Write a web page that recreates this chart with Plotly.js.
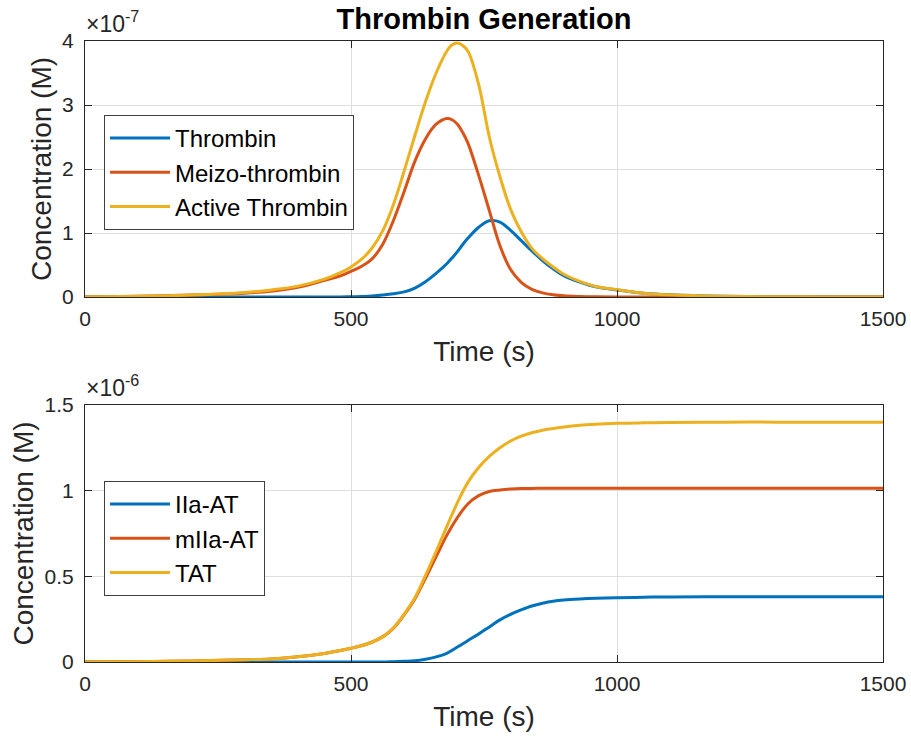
<!DOCTYPE html>
<html>
<head>
<meta charset="utf-8">
<script src="https://cdn.plot.ly/plotly-3.0.1.min.js"></script>
<style>html,body{margin:0;padding:0;background:#fff;}#chart{width:911px;height:736px;}</style>
</head>
<body>
<div id="chart"></div>
<script>
// ---- Top panel data (time in s, values in units of 1e-7 M) ----
const tTop = [0,100,200,300,350,400,450,480,500,520,
              540,560,580,600,620,640,660,680,690,700,
              710,720,740,760,780,800,820,840,860,880,
              900,930,960,1000,1050,1100,1200,1300,1400,1500];
const thrombin = [0,0,0,0,0,0,0,0.001,0.003,0.008,
                  0.015,0.03,0.05,0.08,0.14,0.24,0.37,0.52,0.61,0.71,
                  0.82,0.92,1.09,1.19,1.17,1.04,0.88,0.72,0.57,0.44,
                  0.335,0.235,0.16,0.11,0.06,0.035,0.012,0.004,0.001,0];
const meizo = [0,0.01,0.03,0.06,0.09,0.15,0.26,0.33,0.40,0.48,
               0.60,0.83,1.2,1.65,2.12,2.47,2.70,2.79,2.77,2.70,
               2.57,2.40,1.90,1.35,0.80,0.43,0.23,0.12,0.065,0.035,
               0.018,0.008,0.003,0,0,0,0,0,0,0];
const activeThrombin = [0,0.01,0.03,0.07,0.11,0.17,0.28,0.38,0.47,0.59,
                        0.77,1.04,1.45,1.97,2.52,3.05,3.5,3.84,3.94,3.97,
                        3.93,3.84,3.32,2.50,1.88,1.37,1.02,0.76,0.60,0.47,
                        0.355,0.245,0.165,0.115,0.06,0.035,0.012,0.004,0.001,0];
const topScale = 1e-7;
const topTicks = [0,1,2,3,4];

// ---- Bottom panel data (time in s, values in units of 1e-6 M) ----
const tBot = [0,100,200,300,350,400,450,500,530,560,
              580,600,620,640,660,680,700,720,740,760,
              780,800,820,840,860,880,900,930,960,1000,
              1050,1100,1200,1300,1400,1500];
const iiaAT = [0,0,0,0,0,0,0,0,0,0,
               0.002,0.004,0.007,0.016,0.03,0.051,0.087,0.126,0.164,0.205,
               0.246,0.278,0.304,0.327,0.343,0.355,0.362,0.368,0.372,0.375,
               0.378,0.380,0.381,0.381,0.381,0.381];
const miiaAT = [0,0.002,0.006,0.013,0.018,0.03,0.05,0.08,0.105,0.148,
                0.198,0.276,0.368,0.489,0.615,0.739,0.843,0.924,0.971,0.995,
                1.004,1.01,1.013,1.013,1.014,1.014,1.014,1.014,1.014,1.014,
                1.014,1.014,1.014,1.014,1.014,1.014];
const tat = [0,0.002,0.006,0.013,0.018,0.03,0.05,0.08,0.105,0.148,
             0.2,0.28,0.375,0.505,0.645,0.79,0.93,1.05,1.135,1.20,
             1.25,1.29,1.318,1.338,1.353,1.363,1.372,1.382,1.388,1.393,
             1.396,1.398,1.40,1.40,1.40,1.40];
const botScale = 1e-6;
const botTicks = [0,0.5,1,1.5];
const botTickText = ['0','0.5','1','1.5'];

const xTicks = [0,500,1000,1500];

const C1 = '#0072BD', C2 = '#D95319', C3 = '#EDB120';
const AX = '#262626';
const FONT = 'Liberation Sans, Arial, Helvetica, sans-serif';

function tr(x, y, s, name, color, xa, ya, lg) {
  return {x: x, y: y.map(v => v * s), name: name, type: 'scatter', mode: 'lines',
    line: {color: color, width: 3, shape: 'spline', smoothing: 1},
    xaxis: xa, yaxis: ya, legend: lg, hoverinfo: 'skip'};
}

const data = [
  tr(tTop, thrombin, topScale, 'Thrombin', C1, 'x', 'y', 'legend'),
  tr(tTop, meizo, topScale, 'Meizo-thrombin', C2, 'x', 'y', 'legend'),
  tr(tTop, activeThrombin, topScale, 'Active Thrombin', C3, 'x', 'y', 'legend'),
  tr(tBot, iiaAT, botScale, 'IIa-AT', C1, 'x2', 'y2', 'legend2'),
  tr(tBot, miiaAT, botScale, 'mIIa-AT', C2, 'x2', 'y2', 'legend2'),
  tr(tBot, tat, botScale, 'TAT', C3, 'x2', 'y2', 'legend2')
];

const W = 911, H = 736;
const xd = [85 / W, 883 / W];
const yTop = [1 - 297 / H, 1 - 41 / H];
const yBot = [1 - 662 / H, 1 - 405 / H];

function xaxis(anchor) {
  return {domain: xd, anchor: anchor, range: [0, 1500], tickvals: xTicks,
    ticktext: xTicks.map(String), ticks: 'inside', ticklen: 7, tickcolor: AX, tickwidth: 1,
    showline: true, linecolor: AX, linewidth: 1, mirror: 'ticks',
    showgrid: true, gridcolor: '#dedede', gridwidth: 1, zeroline: false,
    tickfont: {family: FONT, size: 21, color: AX}, ticklabelstandoff: 3,
    title: {text: 'Time (s)', font: {family: FONT, size: 28, color: AX}, standoff: 12}};
}
function yaxis(anchor, dom, range, vals, text) {
  return {domain: dom, anchor: anchor, range: range, tickvals: vals, ticktext: text,
    ticks: 'inside', ticklen: 7, tickcolor: AX, tickwidth: 1,
    showline: true, linecolor: AX, linewidth: 1, mirror: 'ticks',
    showgrid: true, gridcolor: '#dedede', gridwidth: 1, zeroline: false,
    tickfont: {family: FONT, size: 21, color: AX}, ticklabelstandoff: 6,
    title: {text: 'Concentration (M)', font: {family: FONT, size: 28, color: AX}, standoff: 2}};
}

const legendStyle = (y) => ({x: 104 / W, y: y, xanchor: 'left', yanchor: 'top', xref: 'paper', yref: 'paper',
  bgcolor: '#ffffff', bordercolor: '#404040', borderwidth: 1,
  font: {family: FONT, size: 24, color: '#000'}, itemwidth: 60, tracegroupgap: 0});

const layout = {
  width: W, height: H, paper_bgcolor: '#fff', plot_bgcolor: '#fff',
  margin: {l: 0, r: 0, t: 0, b: 0},
  showlegend: true,
  title: {text: '<b>Thrombin Generation</b>', x: 484 / W, xanchor: 'center', xref: 'paper',
    y: 1 - 19 / H, yanchor: 'middle', yref: 'paper', font: {family: FONT, size: 29, color: '#000'}},
  xaxis: xaxis('y'),
  yaxis: yaxis('x', yTop, [0, 4 * topScale], topTicks.map(v => v * topScale), topTicks.map(String)),
  xaxis2: xaxis('y2'),
  yaxis2: yaxis('x2', yBot, [0, 1.5 * botScale], botTicks.map(v => v * botScale), botTickText),
  legend: legendStyle(1 - 115 / H),
  legend2: legendStyle(1 - 481 / H),
  annotations: [
    {text: '×10<sup>-7</sup>', x: 84 / W, y: 1 - 39 / H, xref: 'paper', yref: 'paper',
      xanchor: 'left', yanchor: 'bottom', showarrow: false, font: {family: FONT, size: 23, color: AX}},
    {text: '×10<sup>-6</sup>', x: 84 / W, y: 1 - 403 / H, xref: 'paper', yref: 'paper',
      xanchor: 'left', yanchor: 'bottom', showarrow: false, font: {family: FONT, size: 23, color: AX}}
  ]
};

Plotly.newPlot('chart', data, layout, {staticPlot: true, displayModeBar: false});
</script>
</body>
</html>
